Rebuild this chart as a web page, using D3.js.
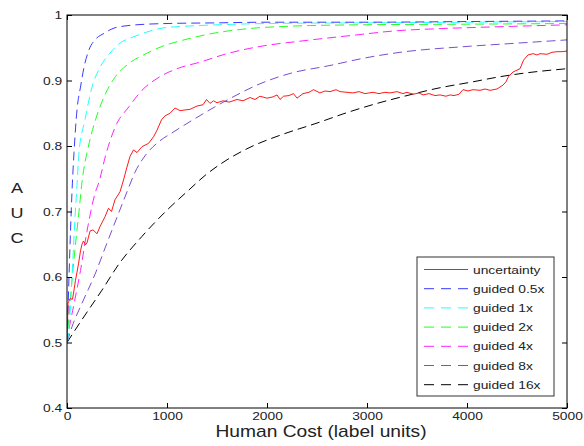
<!DOCTYPE html>
<html>
<head>
<meta charset="utf-8">
<script src="https://cdn.jsdelivr.net/npm/d3@7"></script>
<style>
  html, body { margin: 0; padding: 0; background: #fff; }
  svg { display: block; }
  text { font-family: "Liberation Sans", Arial, sans-serif; fill: #222; }
</style>
</head>
<body>
<div id="chart"></div>
<script>
// tick labels
const xTicks = [0, 1000, 2000, 3000, 4000, 5000];
const yTicks = [0.4, 0.5, 0.6, 0.7, 0.8, 0.9, 1];

// series: [human cost, AUC]
const uncertainty = [[0,0.50],[10,0.56],[30,0.567],[55,0.566],[70,0.58],[85,0.595],[115,0.62],[135,0.64],[150,0.65],[165,0.655],[185,0.649],[200,0.652],[230,0.67],[260,0.672],[300,0.666],[330,0.677],[380,0.692],[415,0.705],[445,0.70],[480,0.718],[530,0.73],[565,0.748],[600,0.768],[630,0.784],[665,0.794],[700,0.79],[750,0.799],[815,0.804],[865,0.814],[900,0.824],[945,0.840],[980,0.846],[1030,0.85],[1080,0.858],[1130,0.854],[1180,0.855],[1230,0.856],[1300,0.861],[1360,0.863],[1395,0.871],[1430,0.865],[1465,0.869],[1500,0.866],[1560,0.869],[1620,0.867],[1700,0.871],[1760,0.869],[1830,0.874],[1880,0.871],[1930,0.876],[2000,0.873],[2060,0.875],[2100,0.878],[2130,0.871],[2165,0.876],[2220,0.877],[2265,0.880],[2300,0.873],[2360,0.880],[2420,0.882],[2465,0.886],[2530,0.881],[2580,0.884],[2630,0.883],[2690,0.886],[2730,0.883],[2800,0.882],[2860,0.881],[2920,0.883],[2980,0.880],[3060,0.882],[3120,0.880],[3180,0.882],[3230,0.881],[3300,0.883],[3360,0.880],[3400,0.882],[3460,0.879],[3520,0.881],[3560,0.878],[3620,0.880],[3680,0.877],[3730,0.878],[3790,0.876],[3830,0.878],[3870,0.877],[3920,0.879],[3960,0.886],[4010,0.884],[4060,0.886],[4130,0.885],[4180,0.887],[4230,0.885],[4300,0.887],[4360,0.893],[4390,0.898],[4415,0.906],[4460,0.913],[4530,0.918],[4565,0.931],[4610,0.939],[4660,0.941],[4700,0.939],[4730,0.941],[4800,0.940],[4850,0.943],[4900,0.944],[4950,0.944],[5000,0.945]];
const guided05 = [[0,0.50],[10,0.55],[20,0.60],[35,0.67],[50,0.73],[70,0.79],[100,0.855],[135,0.89],[170,0.92],[220,0.947],[280,0.962],[370,0.972],[470,0.980],[620,0.984],[800,0.986],[1000,0.987],[1500,0.988],[2000,0.989],[3000,0.989],[4000,0.990],[5000,0.991]];
const guided1 = [[0,0.50],[20,0.52],[40,0.57],[60,0.63],[80,0.69],[100,0.74],[120,0.79],[180,0.84],[250,0.89],[330,0.92],[420,0.94],[530,0.957],[670,0.967],[820,0.975],[950,0.980],[1200,0.983],[1500,0.985],[2000,0.987],[3000,0.988],[4000,0.989],[5000,0.990]];
const guided2 = [[0,0.50],[15,0.53],[50,0.595],[85,0.65],[120,0.70],[150,0.745],[215,0.80],[285,0.84],[385,0.88],[485,0.906],[620,0.926],[790,0.941],[950,0.952],[1170,0.962],[1460,0.972],[1800,0.979],[2250,0.983],[2900,0.985],[4000,0.986],[5000,0.987]];
const guided4 = [[0,0.50],[20,0.52],[65,0.555],[135,0.61],[200,0.67],[285,0.73],[320,0.745],[385,0.785],[485,0.83],[620,0.86],[750,0.885],[920,0.905],[1100,0.918],[1330,0.928],[1600,0.941],[1930,0.952],[2330,0.96],[2860,0.969],[3300,0.976],[3700,0.979],[4300,0.982],[5000,0.985]];
const guided8 = [[0,0.50],[50,0.524],[150,0.56],[285,0.606],[385,0.646],[515,0.697],[600,0.73],[680,0.76],[780,0.785],[930,0.808],[1050,0.82],[1260,0.84],[1600,0.87],[1930,0.895],[2260,0.912],[2600,0.922],[3000,0.935],[3330,0.943],[4000,0.952],[4500,0.957],[5000,0.962]];
const guided16 = [[0,0.50],[150,0.535],[350,0.58],[520,0.62],[750,0.662],[1020,0.705],[1220,0.733],[1380,0.755],[1550,0.774],[1830,0.798],[2160,0.818],[2500,0.835],[2800,0.851],[3100,0.865],[3400,0.877],[3700,0.888],[4060,0.898],[4300,0.905],[4560,0.911],[5000,0.918]];

const seriesNames = ['uncertainty', 'guided 0.5x', 'guided 1x', 'guided 2x', 'guided 4x', 'guided 8x', 'guided 16x'];
const seriesData = [uncertainty, guided05, guided1, guided2, guided4, guided8, guided16];
const seriesColors = ['#ff1a1a', '#3a3aff', '#22ffff', '#22ff22', '#ff22ff', '#7a4fd0', '#000000'];
const seriesDashed = [false, true, true, true, true, true, true];

const width = 584, height = 446;
const plot = { left: 67, right: 567, top: 15, bottom: 408 };
const SX = 1.2; // horizontal stretch of the original's text

const svg = d3.select('#chart').append('svg')
  .attr('width', width).attr('height', height);

const x = d3.scaleLinear().domain([0, 5000]).range([plot.left, plot.right]);
const y = d3.scaleLinear().domain([0.4, 1]).range([plot.bottom, plot.top]);

svg.append('clipPath').attr('id', 'clip')
  .append('rect')
  .attr('x', plot.left).attr('y', plot.top)
  .attr('width', plot.right - plot.left).attr('height', plot.bottom - plot.top);

// curves
const line = d3.line().x(d => x(d[0])).y(d => y(d[1]));
const smooth = d3.line().x(d => x(d[0])).y(d => y(d[1])).curve(d3.curveMonotoneX);
const curves = svg.append('g').attr('clip-path', 'url(#clip)');
// draw from last to first so red and blue sit on top
d3.range(seriesData.length).reverse().forEach(i => {
  curves.append('path')
    .datum(seriesData[i])
    .attr('d', seriesDashed[i] ? smooth : line)
    .attr('fill', 'none')
    .attr('stroke', seriesColors[i])
    .attr('stroke-width', 1)
    .attr('stroke-dasharray', seriesDashed[i] ? '9,5' : null);
});

// axes (ticks pointing inward on all four sides)
const tickStyle = a => a.call(s => s.select('.domain').remove())
  .call(s => s.selectAll('.tick line').attr('stroke', '#000'));

svg.append('g')
  .attr('transform', `translate(0,${plot.bottom})`)
  .call(d3.axisBottom(x).tickValues(xTicks).tickSize(-5).tickPadding(4).tickFormat(d3.format('d')))
  .call(tickStyle)
  .call(a => a.selectAll('text')
    .attr('font-size', 11.5).attr('fill', '#222')
    .attr('font-family', '"Liberation Sans", Arial, sans-serif')
    .attr('transform', `scale(${SX},1)`));

svg.append('g')
  .attr('transform', `translate(0,${plot.top})`)
  .call(d3.axisTop(x).tickValues(xTicks).tickSize(-5).tickFormat(''))
  .call(tickStyle);

svg.append('g')
  .attr('transform', `translate(${plot.left},0)`)
  .call(d3.axisLeft(y).tickValues(yTicks).tickSize(-5).tickPadding(4).tickFormat(d => d === 1 ? '1' : d3.format('.1f')(d)))
  .call(tickStyle)
  .call(a => a.selectAll('text')
    .attr('font-size', 11.5).attr('fill', '#222')
    .attr('font-family', '"Liberation Sans", Arial, sans-serif')
    .attr('transform', `scale(${SX},1)`));

svg.append('g')
  .attr('transform', `translate(${plot.right},0)`)
  .call(d3.axisRight(y).tickValues(yTicks).tickSize(-5).tickFormat(''))
  .call(tickStyle);

// box
svg.append('rect')
  .attr('x', plot.left).attr('y', plot.top)
  .attr('width', plot.right - plot.left).attr('height', plot.bottom - plot.top)
  .attr('fill', 'none').attr('stroke', '#000').attr('stroke-width', 1);

// axis titles
svg.append('text')
  .attr('transform', `translate(321,437) scale(${SX},1)`)
  .attr('text-anchor', 'middle')
  .attr('font-size', 16)
  .text('Human Cost (label units)');

['A', 'U', 'C'].forEach((ch, i) => {
  svg.append('text')
    .attr('transform', `translate(17,${188 + i * 25}) scale(${SX},1)`)
    .attr('text-anchor', 'middle')
    .attr('dy', '0.35em')
    .attr('font-size', 15)
    .text(ch);
});

// legend
const legend = svg.append('g');
legend.append('rect')
  .attr('x', 417).attr('y', 257).attr('width', 137).attr('height', 139)
  .attr('fill', '#fff').attr('stroke', '#333').attr('stroke-width', 1);

seriesNames.forEach((name, i) => {
  const ly = 269.5 + i * 19.2;
  legend.append('line')
    .attr('x1', 424).attr('x2', 468).attr('y1', ly).attr('y2', ly)
    .attr('stroke', seriesColors[i]).attr('stroke-width', 1)
    .attr('stroke-dasharray', seriesDashed[i] ? '10,7' : null);
  legend.append('text')
    .attr('transform', `translate(473,${ly}) scale(${SX},1)`)
    .attr('dy', '0.35em')
    .attr('font-size', 11.5)
    .text(name);
});
</script>
</body>
</html>
